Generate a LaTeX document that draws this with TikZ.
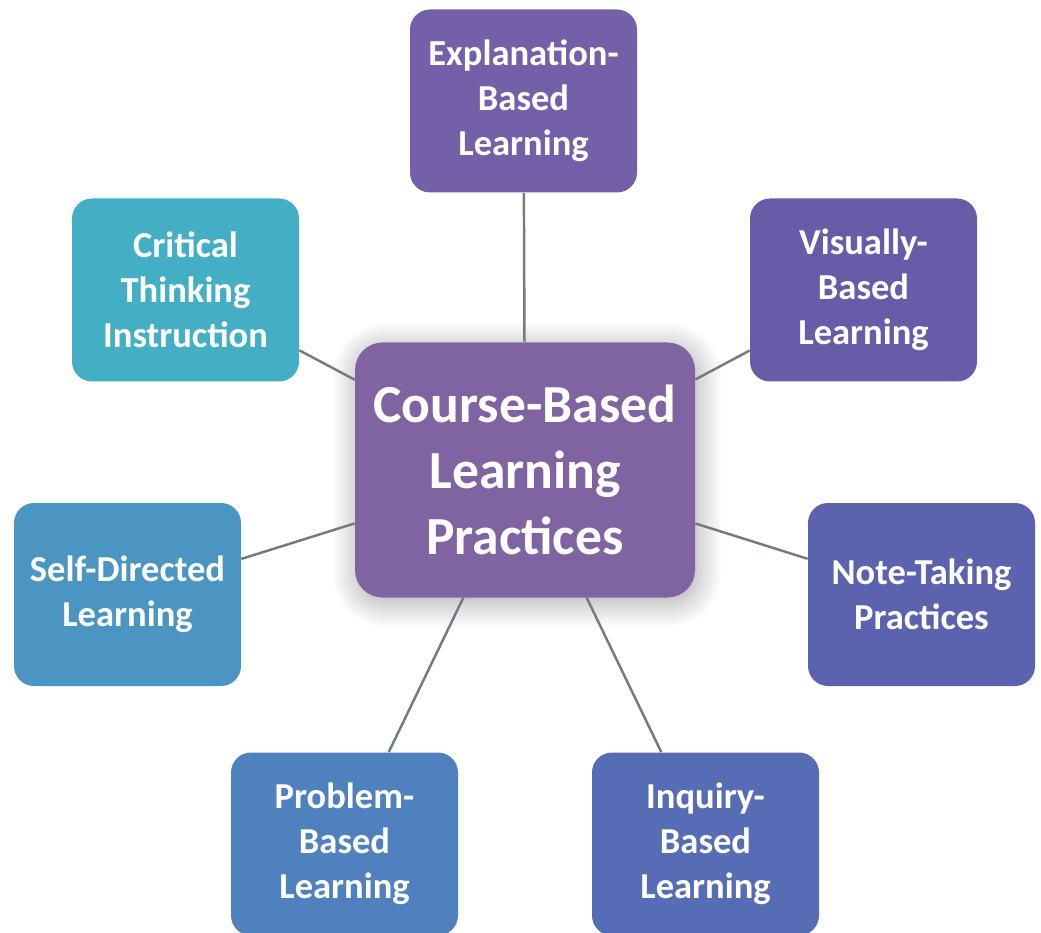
\documentclass[tikz,border=0pt]{standalone}
\usepackage{fontspec}
\setmainfont{Carlito}
\usepackage{xcolor}
\usepackage{tikz}
\usetikzlibrary{shadows.blur}

\definecolor{hubcol}{HTML}{8064A2}
\definecolor{explcol}{HTML}{745FA9}
\definecolor{viscol}{HTML}{665CA8}
\definecolor{notecol}{HTML}{5B63AF}
\definecolor{inqcol}{HTML}{566CB5}
\definecolor{probcol}{HTML}{5081BF}
\definecolor{selfcol}{HTML}{4A95C1}
\definecolor{critcol}{HTML}{44AFC4}
\definecolor{linkcol}{HTML}{737B80}

\begin{document}
\begin{tikzpicture}[
    every node/.style={font=\bfseries, text=white, align=center},
    leaf/.style={rectangle, rounded corners=0.4cm, minimum width=4.54cm, minimum height=3.66cm,
        inner sep=0pt, font=\fontsize{20.8}{25.6}\selectfont\bfseries},
    hubbox/.style={rectangle, rounded corners=0.55cm, minimum width=6.8cm, minimum height=5.1cm,
        inner sep=0pt, fill=hubcol, font=\fontsize{30.5}{37.5}\selectfont\bfseries,
        blur shadow={shadow xshift=0.04cm, shadow yshift=-0.1cm, shadow blur radius=0.5cm,
            shadow blur steps=20, shadow opacity=35}},
    link/.style={draw=linkcol, line width=1.4pt}
]
\useasboundingbox (0,0) rectangle (20.82,18.64);

% outer ring
\node[leaf, fill=explcol] (expl) at (10.47,16.62) {Explanation-\\Based\\Learning};
\node[leaf, fill=viscol] (visual) at (17.27,12.84) {Visually-\\Based\\Learning};
\node[leaf, fill=notecol] (notes) at (18.43,6.75) {Note-Taking\\Practices};
\node[leaf, fill=inqcol] (inquiry) at (14.11,1.76) {Inquiry-\\Based\\Learning};
\node[leaf, fill=probcol] (problem) at (6.89,1.76) {Problem-\\Based\\Learning};
\node[leaf, fill=selfcol] (selfdir) at (2.55,6.75) {Self-Directed\\Learning};
\node[leaf, fill=critcol] (critical) at (3.71,12.84) {Critical\\Thinking\\Instruction};

% centre
\node[hubbox] (hub) at (10.5,9.24) {Course-Based\\Learning\\Practices};

\foreach \n in {expl, visual, notes, inquiry, problem, selfdir, critical}
    \draw[link] (hub) -- (\n);
\end{tikzpicture}
\end{document}
